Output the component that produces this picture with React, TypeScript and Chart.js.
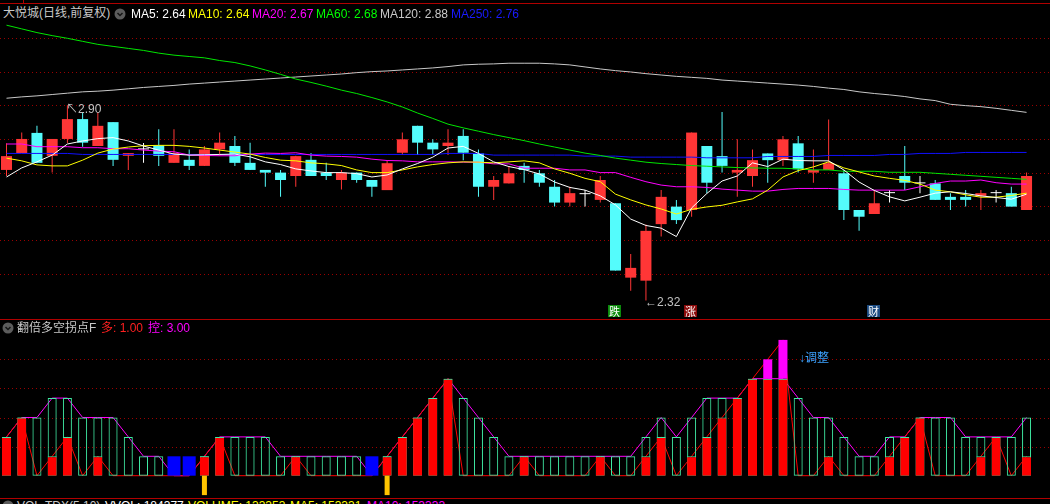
import React, { useEffect, useRef } from 'react';
import { Chart, registerables } from 'chart.js';

Chart.register(...registerables);

// ---------------- data ----------------
const opens = [2.708, 2.758, 2.818, 2.750, 2.800, 2.859, 2.779, 2.850, 2.750, 2.769,
  2.781, 2.729, 2.738, 2.720, 2.769, 2.779, 2.729, 2.708, 2.700, 2.690,
  2.738, 2.700, 2.678, 2.700, 2.678, 2.648, 2.759, 2.839, 2.789, 2.779,
  2.809, 2.757, 2.658, 2.668, 2.720, 2.698, 2.658, 2.611, 2.636, 2.619,
  2.609, 2.388, 2.379, 2.547, 2.599, 2.589, 2.779, 2.749, 2.700, 2.690,
  2.757, 2.737, 2.787, 2.700, 2.708, 2.698, 2.589, 2.577, 2.639, 2.690,
  2.668, 2.668, 2.628, 2.628, 2.631, 2.639, 2.639, 2.589];
const closes = [2.749, 2.800, 2.729, 2.800, 2.859, 2.789, 2.839, 2.738, 2.758, 2.769,
  2.750, 2.758, 2.720, 2.769, 2.789, 2.729, 2.708, 2.700, 2.678, 2.749,
  2.690, 2.690, 2.700, 2.678, 2.658, 2.728, 2.799, 2.789, 2.769, 2.789,
  2.759, 2.658, 2.678, 2.698, 2.708, 2.670, 2.611, 2.639, 2.636, 2.678,
  2.409, 2.417, 2.527, 2.628, 2.559, 2.819, 2.670, 2.720, 2.708, 2.737,
  2.737, 2.799, 2.710, 2.708, 2.728, 2.589, 2.569, 2.609, 2.639, 2.670,
  2.668, 2.619, 2.619, 2.619, 2.639, 2.639, 2.599, 2.690];
const highs = [2.787, 2.819, 2.839, 2.800, 2.900, 2.879, 2.879, 2.850, 2.758, 2.788,
  2.829, 2.829, 2.769, 2.779, 2.819, 2.809, 2.789, 2.708, 2.708, 2.750,
  2.758, 2.729, 2.708, 2.700, 2.678, 2.737, 2.819, 2.839, 2.799, 2.829,
  2.829, 2.769, 2.690, 2.720, 2.729, 2.708, 2.678, 2.658, 2.648, 2.690,
  2.609, 2.458, 2.546, 2.648, 2.619, 2.819, 2.779, 2.880, 2.799, 2.769,
  2.757, 2.809, 2.809, 2.769, 2.858, 2.708, 2.589, 2.648, 2.648, 2.779,
  2.690, 2.678, 2.639, 2.648, 2.648, 2.648, 2.658, 2.700];
const lows = [2.690, 2.758, 2.728, 2.700, 2.788, 2.777, 2.779, 2.720, 2.708, 2.729,
  2.720, 2.729, 2.708, 2.720, 2.750, 2.720, 2.708, 2.658, 2.628, 2.658,
  2.690, 2.678, 2.650, 2.670, 2.628, 2.648, 2.752, 2.752, 2.752, 2.752,
  2.737, 2.628, 2.619, 2.668, 2.670, 2.658, 2.599, 2.599, 2.599, 2.611,
  2.409, 2.349, 2.320, 2.510, 2.547, 2.569, 2.639, 2.700, 2.628, 2.658,
  2.670, 2.720, 2.700, 2.670, 2.708, 2.559, 2.527, 2.577, 2.611, 2.648,
  2.639, 2.619, 2.589, 2.599, 2.589, 2.611, 2.599, 2.589];

const ma5 = [2.687, 2.714, 2.732, 2.752, 2.785, 2.794, 2.801, 2.804, 2.794, 2.779,
  2.767, 2.755, 2.752, 2.753, 2.754, 2.755, 2.747, 2.732, 2.724, 2.711,
  2.705, 2.700, 2.700, 2.697, 2.687, 2.693, 2.711, 2.727, 2.746, 2.773,
  2.778, 2.757, 2.732, 2.718, 2.709, 2.696, 2.672, 2.656, 2.648, 2.631,
  2.604, 2.562, 2.543, 2.535, 2.510, 2.595, 2.638, 2.675, 2.690, 2.729,
  2.718, 2.740, 2.736, 2.735, 2.735, 2.708, 2.672, 2.647, 2.628, 2.616,
  2.627, 2.639, 2.643, 2.638, 2.631, 2.626, 2.621, 2.636];
const ma10 = [2.743, 2.735, 2.723, 2.720, 2.720, 2.737, 2.758, 2.770, 2.776, 2.780,
  2.781, 2.781, 2.778, 2.773, 2.767, 2.761, 2.755, 2.745, 2.737, 2.735,
  2.729, 2.726, 2.721, 2.708, 2.700, 2.700, 2.708, 2.717, 2.724, 2.729,
  2.732, 2.731, 2.729, 2.732, 2.735, 2.729, 2.711, 2.698, 2.683, 2.673,
  2.636, 2.619, 2.604, 2.592, 2.577, 2.591, 2.598, 2.603, 2.613, 2.622,
  2.648, 2.687, 2.706, 2.717, 2.732, 2.714, 2.702, 2.690, 2.683, 2.677,
  2.666, 2.648, 2.643, 2.634, 2.627, 2.627, 2.632, 2.639];
const ma20 = [2.785, 2.785, 2.777, 2.777, 2.777, 2.774, 2.774, 2.771, 2.771, 2.767,
  2.764, 2.762, 2.752, 2.751, 2.750, 2.750, 2.755, 2.758, 2.757, 2.759,
  2.752, 2.749, 2.748, 2.746, 2.740, 2.736, 2.735, 2.732, 2.732, 2.732,
  2.731, 2.731, 2.726, 2.726, 2.713, 2.713, 2.713, 2.708, 2.708, 2.700,
  2.700, 2.686, 2.673, 2.663, 2.658, 2.658, 2.656, 2.651, 2.648, 2.645,
  2.645, 2.650, 2.653, 2.653, 2.653, 2.650, 2.648, 2.648, 2.648, 2.648,
  2.658, 2.668, 2.675, 2.675, 2.678, 2.670, 2.666, 2.666];
const ma60 = [3.138, 3.127, 3.116, 3.107, 3.099, 3.090, 3.081, 3.075, 3.069, 3.063,
  3.055, 3.049, 3.045, 3.041, 3.033, 3.027, 3.017, 3.005, 2.992, 2.978,
  2.968, 2.957, 2.945, 2.935, 2.923, 2.910, 2.895, 2.877, 2.861, 2.844,
  2.833, 2.823, 2.813, 2.804, 2.795, 2.785, 2.776, 2.767, 2.758, 2.751,
  2.743, 2.737, 2.731, 2.727, 2.724, 2.721, 2.719, 2.717, 2.715, 2.714,
  2.713, 2.713, 2.711, 2.708, 2.708, 2.704, 2.704, 2.704, 2.701, 2.701,
  2.701, 2.698, 2.695, 2.692, 2.689, 2.686, 2.683, 2.680];
const ma120 = [2.921, 2.925, 2.928, 2.932, 2.936, 2.940, 2.942, 2.945, 2.949, 2.953,
  2.956, 2.959, 2.963, 2.966, 2.969, 2.972, 2.975, 2.978, 2.981, 2.984,
  2.987, 2.990, 2.993, 2.997, 3.000, 3.002, 3.005, 3.008, 3.011, 3.015,
  3.020, 3.022, 3.023, 3.025, 3.025, 3.025, 3.023, 3.020, 3.014, 3.008,
  3.003, 2.999, 2.994, 2.990, 2.986, 2.983, 2.980, 2.975, 2.972, 2.969,
  2.966, 2.963, 2.960, 2.956, 2.951, 2.947, 2.940, 2.935, 2.931, 2.926,
  2.919, 2.914, 2.903, 2.899, 2.896, 2.891, 2.885, 2.879];
const ma250 = [2.757, 2.757, 2.757, 2.757, 2.757, 2.754, 2.754, 2.754, 2.754, 2.754,
  2.754, 2.754, 2.754, 2.754, 2.754, 2.754, 2.754, 2.754, 2.754, 2.754,
  2.754, 2.754, 2.754, 2.754, 2.754, 2.754, 2.754, 2.754, 2.754, 2.757,
  2.757, 2.757, 2.752, 2.752, 2.752, 2.752, 2.752, 2.752, 2.749, 2.749,
  2.749, 2.746, 2.746, 2.746, 2.746, 2.746, 2.744, 2.744, 2.744, 2.744,
  2.748, 2.748, 2.748, 2.748, 2.751, 2.751, 2.751, 2.751, 2.754, 2.754,
  2.757, 2.757, 2.757, 2.760, 2.760, 2.760, 2.760, 2.760];

const priceGrid = [3.1, 3.0, 2.9, 2.8, 2.7, 2.6, 2.5, 2.4];

// lower indicator panel
const outlineLevel = [2, 3, 3, 4, 4, 3, 3, 3, 2, 1,
  1, 0, 0, 1, 2, 2, 2, 2, 1, 1,
  1, 1, 1, 1, 0, 1, 2, 3, 4, 5,
  4, 3, 2, 1, 1, 1, 1, 1, 1, 1,
  1, 1, 2, 3, 2, 3, 4, 4, 4, 5,
  5, 5, 4, 3, 3, 2, 1, 1, 2, 2,
  3, 3, 3, 2, 2, 2, 2, 3];
const redLevel = [2, 3, 0, 1, 2, 0, 1, 0, 0, 0,
  0, 0, 0, 1, 2, 0, 0, 0, 0, 1,
  0, 0, 0, 0, 0, 1, 2, 3, 4, 5,
  0, 0, 0, 0, 1, 0, 0, 0, 0, 1,
  0, 0, 1, 2, 0, 1, 2, 3, 4, 5,
  6, 7, 0, 0, 1, 0, 0, 0, 1, 2,
  3, 0, 0, 0, 1, 2, 0, 1];
const blueLevel = [0, 0, 0, 0, 0, 0, 0, 0, 0, 0,
  0, 1, 1, 0, 0, 0, 0, 0, 0, 0,
  0, 0, 0, 0, 1, 0, 0, 0, 0, 0,
  0, 0, 0, 0, 0, 0, 0, 0, 0, 0,
  0, 0, 0, 0, 0, 0, 0, 0, 0, 0,
  0, 0, 0, 0, 0, 0, 0, 0, 0, 0,
  0, 0, 0, 0, 0, 0, 0, 0];
const yellowLevel = [0, 0, 0, 0, 0, 0, 0, 0, 0, 0,
  0, 0, 0, -1, 0, 0, 0, 0, 0, 0,
  0, 0, 0, 0, 0, -1, 0, 0, 0, 0,
  0, 0, 0, 0, 0, 0, 0, 0, 0, 0,
  0, 0, 0, 0, 0, 0, 0, 0, 0, 0,
  0, 0, 0, 0, 0, 0, 0, 0, 0, 0,
  0, 0, 0, 0, 0, 0, 0, 0];
const lowerGrid = [1.5, 3, 4.5, 6];

// ---------------- layout / style ----------------
const X_MIN = -0.427;
const X_MAX = 68.54;
const PRICE_MIN = 2.2681;
const PRICE_MAX = 3.1534;
const LOW_MIN = -1.098;
const LOW_MAX = 8.026;
const UP = '#FF3636';
const DOWN = '#54FCFC';
const DOJI = '#FFFFFF';
const GRID_RED = '#9a0000';
const SEP_RED = '#b00000';
const FONT = '"Liberation Sans", "Noto Sans CJK SC", "DejaVu Sans", sans-serif';

function gridPlugin(levels: number[]) {
  return {
    id: 'dottedGrid',
    beforeDatasetsDraw(chart: any) {
      const { ctx, chartArea, scales } = chart;
      ctx.save();
      ctx.strokeStyle = GRID_RED;
      ctx.lineWidth = 1;
      ctx.setLineDash([1, 3]);
      levels.forEach((v) => {
        const y = Math.round(scales.y.getPixelForValue(v)) + 0.5;
        ctx.beginPath();
        ctx.moveTo(chartArea.left, y);
        ctx.lineTo(chartArea.right, y);
        ctx.stroke();
      });
      ctx.restore();
    },
  };
}

const baseOptions = (ymin: number, ymax: number) => ({
  responsive: false,
  animation: false as const,
  devicePixelRatio: 1,
  events: [] as any[],
  layout: { padding: 0 },
  plugins: { legend: { display: false }, tooltip: { enabled: false } },
  scales: {
    x: { type: 'linear' as const, min: X_MIN, max: X_MAX, display: false, offset: false },
    y: { type: 'linear' as const, min: ymin, max: ymax, display: false, stacked: false },
  },
});

// every bar dataset shares one stack so that bars overlap and keep their own barThickness
const barDs = (data: any[], extra: any) => ({
  type: 'bar' as const,
  data,
  stack: 'one',
  borderWidth: 0,
  inflateAmount: 0,
  ...extra,
});

const T = ({ x, y, color, children }: any) => (
  <div style={{ position: 'absolute', left: x, top: y, color, fontSize: 12, lineHeight: '12px', whiteSpace: 'nowrap', fontFamily: FONT }}>
    {children}
  </div>
);

const Icon = ({ x, y }: any) => (
  <svg style={{ position: 'absolute', left: x, top: y }} width={12} height={12}>
    <circle cx={6} cy={6} r={5.5} fill="#5c5c5c" />
    <polyline points="3.5,5 6,7.5 8.5,5" fill="none" stroke="#151515" strokeWidth={1.5} />
  </svg>
);

const Tag = ({ x, y, bg, children }: any) => (
  <div style={{ position: 'absolute', left: x, top: y, width: 13, height: 12, background: bg, color: '#fff', fontSize: 11, lineHeight: '12px', textAlign: 'center', fontFamily: '"Noto Sans CJK SC", sans-serif', overflow: 'hidden' }}>
    {children}
  </div>
);

export default function App() {
  const mainRef = useRef<HTMLCanvasElement>(null);
  const lowRef = useRef<HTMLCanvasElement>(null);

  useEffect(() => {
    const idx = closes.map((_, i) => i);
    const candleColors = idx.map((i) => (closes[i] > opens[i] ? UP : closes[i] < opens[i] ? DOWN : DOJI));
    const line = (arr: number[], color: string, order: number) => ({
      type: 'line' as const,
      data: arr.map((v, i) => ({ x: i, y: v })),
      borderColor: color,
      borderWidth: 1,
      pointRadius: 0,
      tension: 0,
      fill: false,
      order,
    });
    const mainChart = new Chart(mainRef.current as HTMLCanvasElement, {
      type: 'bar',
      data: {
        datasets: [
          line(ma5, '#FFFFFF', 1),
          line(ma10, '#FFFF00', 2),
          line(ma20, '#FF00FF', 3),
          line(ma60, '#00E600', 4),
          line(ma120, '#C8C8C8', 5),
          line(ma250, '#1010FF', 6),
          barDs(idx.map((i) => ({ x: i, y: [opens[i], closes[i]] })), {
            backgroundColor: candleColors, barThickness: 11, minBarLength: 1, order: 19,
          }),
          barDs(idx.map((i) => ({ x: i, y: [lows[i], highs[i]] })), {
            backgroundColor: candleColors, barThickness: 1, order: 20,
          }),
        ] as any,
      },
      options: baseOptions(PRICE_MIN, PRICE_MAX) as any,
      plugins: [gridPlugin(priceGrid)],
    });

    const li = outlineLevel.map((_, i) => i);
    const lowChart = new Chart(lowRef.current as HTMLCanvasElement, {
      type: 'bar',
      data: {
        datasets: [
          {
            type: 'line' as const,
            data: outlineLevel.map((v, i) => ({ x: i, y: v })),
            borderColor: '#FF00FF', borderWidth: 1, pointRadius: 0, tension: 0, fill: false, order: 11,
          },
          {
            type: 'line' as const,
            data: redLevel.map((v, i) => ({ x: i, y: v })),
            borderColor: '#FF0000', borderWidth: 1, pointRadius: 0, tension: 0, fill: false, order: 10,
          },
          barDs(li.filter((i) => outlineLevel[i] > 0).map((i) => ({ x: i, y: [0, outlineLevel[i]] })), {
            backgroundColor: 'rgba(0,0,0,0)', borderColor: '#40EBA4', borderWidth: 1,
            borderSkipped: false, barThickness: 9, order: 6,
          }),
          barDs(li.filter((i) => redLevel[i] > 0).map((i) => ({ x: i, y: [0, Math.min(redLevel[i], Math.max(outlineLevel[i], 1))] })), {
            backgroundColor: '#FF0000', borderColor: '#40EBA4',
            borderWidth: { top: 1, bottom: 0, left: 0, right: 0 }, borderSkipped: false,
            barThickness: 9, order: 5,
          }),
          barDs(li.filter((i) => redLevel[i] > outlineLevel[i]).map((i) => ({ x: i, y: [outlineLevel[i], redLevel[i]] })), {
            backgroundColor: '#FF00FF', barThickness: 9, order: 4,
          }),
          barDs(li.filter((i) => blueLevel[i] > 0).map((i) => ({ x: i, y: [0, blueLevel[i]] })), {
            backgroundColor: '#0000FF', barThickness: 13, order: 3,
          }),
          barDs(li.filter((i) => yellowLevel[i] < 0).map((i) => ({ x: i, y: [yellowLevel[i], 0] })), {
            backgroundColor: '#FFC400', barThickness: 5, order: 2,
          }),
        ] as any,
      },
      options: baseOptions(LOW_MIN, LOW_MAX) as any,
      plugins: [gridPlugin(lowerGrid)],
    });

    return () => {
      mainChart.destroy();
      lowChart.destroy();
    };
  }, []);

  return (
    <div style={{ position: 'fixed', left: 0, top: 0, width: 1050, height: 504, background: '#000', overflow: 'hidden' }}>
      <div style={{ position: 'absolute', left: 0, top: 3, width: 1050, height: 1, background: SEP_RED }} />
      <div style={{ position: 'absolute', left: 23, top: 0, width: 1, height: 4, background: SEP_RED }} />
      <canvas ref={mainRef} width={1050} height={298} style={{ position: 'absolute', left: 0, top: 20, width: 1050, height: 298 }} />
      <div style={{ position: 'absolute', left: 0, top: 319, width: 1050, height: 1, background: SEP_RED }} />
      <canvas ref={lowRef} width={1050} height={177} style={{ position: 'absolute', left: 0, top: 320, width: 1050, height: 177 }} />
      <div style={{ position: 'absolute', left: 0, top: 498, width: 1050, height: 1, background: SEP_RED }} />

      <T x={3} y={7} color="#c8c8c8">大悦城(日线,前复权)</T>
      <Icon x={114} y={8} />
      <T x={131} y={8} color="#ffffff">MA5: 2.64</T>
      <T x={188} y={8} color="#ffff00">MA10: 2.64</T>
      <T x={252} y={8} color="#ff00ff">MA20: 2.67</T>
      <T x={316} y={8} color="#00ff00">MA60: 2.68</T>
      <T x={380} y={8} color="#c8c8c8">MA120: 2.88</T>
      <T x={451} y={8} color="#1a1aff">MA250: 2.76</T>

      <T x={66} y={103} color="#c0c0c0">↖2.90</T>
      <T x={645} y={296} color="#c0c0c0">←2.32</T>
      <Tag x={608} y={305} bg="#0b8a0b">跌</Tag>
      <Tag x={684} y={305} bg="#8a0a0a">涨</Tag>
      <Tag x={867} y={305} bg="#1b4a80">财</Tag>

      <Icon x={2} y={322} />
      <T x={17} y={322} color="#c8c8c8">翻倍多空拐点F</T>
      <T x={101} y={322} color="#ff2020">多: 1.00</T>
      <T x={148} y={322} color="#ff00ff">控: 3.00</T>
      <T x={799} y={352} color="#3da2ff">↓调整</T>

      <Icon x={2} y={500} />
      <T x={17} y={500} color="#c8c8c8">VOL-TDX(5,10)</T>
      <T x={105} y={500} color="#ffffff">VVOL: 184377</T>
      <T x={188} y={500} color="#ffff00">VOLUME: 133353</T>
      <T x={290} y={500} color="#ffff00">MA5: 153331</T>
      <T x={367} y={500} color="#ff00ff">MA10: 153333</T>
    </div>
  );
}
